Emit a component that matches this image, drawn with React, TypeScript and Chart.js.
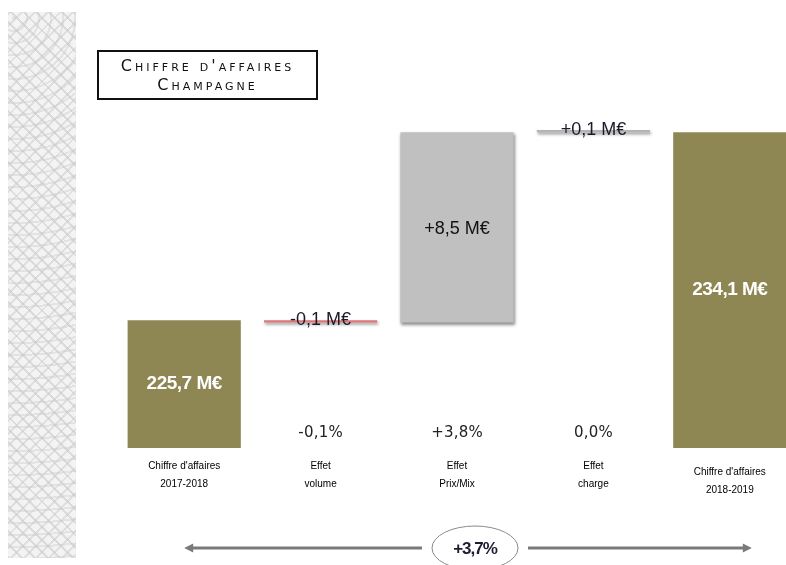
import React, { useEffect, useRef } from "react";
import { Chart, registerables } from "chart.js";

Chart.register(...registerables);

// ---- data ----
const categories: string[][] = [
  ["Chiffre d'affaires", "2017-2018"],
  ["Effet", "volume"],
  ["Effet", "Prix/Mix"],
  ["Effet", "charge"],
  ["Chiffre d'affaires", "2018-2019"],
];
const startTotal = 225.7; // M€ 2017-2018
const effects = [-0.1, 8.5, 0.1]; // volume, prix/mix, charge (M€)
const endTotal = 234.1; // M€ 2018-2019
const axisMin = 220;
const axisMax = 238;
const valueLabels = ["225,7 M€", "-0,1 M€", "+8,5 M€", "+0,1 M€", "234,1 M€"];
const pctLabels = ["", "-0,1%", "+3,8%", "0,0%", ""];
const totalGrowth = "+3,7%";
const totalColor = "#8f8753";
const effectColors = ["#e07676", "#c0c0c0", "#b4b4b4"];
const labelColors = ["#ffffff", "#1a1a2a", "#111111", "#1a1a2a", "#ffffff"];

function totalRanges(): ([number, number] | null)[] {
  return [[axisMin, startTotal], null, null, null, [axisMin, endTotal]];
}
function effectRanges(): ([number, number] | null)[] {
  const r: ([number, number] | null)[] = [null];
  let cur = startTotal;
  effects.forEach((e) => {
    r.push([cur, cur + e]);
    cur = cur + e;
  });
  r.push(null);
  return r;
}

const shadowPlugin = {
  id: "effShadow",
  beforeDatasetDraw(chart: any, args: any) {
    if (args.index === 1) {
      const ctx = chart.ctx;
      ctx.save();
      ctx.shadowColor = "rgba(0,0,0,0.45)";
      ctx.shadowBlur = 3;
      ctx.shadowOffsetX = 1;
      ctx.shadowOffsetY = 2;
    }
  },
  afterDatasetDraw(chart: any, args: any) {
    if (args.index === 1) chart.ctx.restore();
  },
};

const labelsPlugin = {
  id: "wfLabels",
  afterDatasetsDraw(chart: any) {
    const ctx = chart.ctx;
    const m0 = chart.getDatasetMeta(0);
    const m1 = chart.getDatasetMeta(1);
    const tot = totalRanges();
    const area = chart.chartArea;
    const xs = chart.scales.x;
    ctx.save();
    ctx.textAlign = "center";
    ctx.textBaseline = "middle";
    categories.forEach((_, i) => {
      const bar: any = tot[i] ? m0.data[i] : m1.data[i];
      const x = bar.x;
      const big = i === 0 || i === 4 || i === 2;
      const y = big ? (bar.y + bar.base) / 2 : bar.y;
      if (i === 0 || i === 4) {
        ctx.font = "bold 19px 'Liberation Sans', Arial, sans-serif";
        (ctx as any).letterSpacing = "-0.5px";
      } else {
        ctx.font = "18px 'Liberation Sans', Arial, sans-serif";
        (ctx as any).letterSpacing = "0px";
      }
      ctx.fillStyle = labelColors[i];
      ctx.fillText(valueLabels[i], x, y + (i === 2 ? 2 : 0));
      (ctx as any).letterSpacing = "0px";
      if (pctLabels[i]) {
        ctx.font = "15px 'DejaVu Sans', sans-serif";
        (ctx as any).letterSpacing = "0.2px";
        ctx.fillStyle = "#222";
        ctx.fillText(pctLabels[i], x, area.bottom - 15);
        (ctx as any).letterSpacing = "0px";
      }
    });
    // category labels
    ctx.font = "10px 'Liberation Sans', Arial, sans-serif";
    ctx.fillStyle = "#000";
    categories.forEach((c, i) => {
      const x = xs.getPixelForValue(i);
      const off = i === 4 ? 6 : 0;
      c.forEach((line, j) => ctx.fillText(line, x, area.bottom + 18 + off + j * 18));
    });
    // bottom arrow with growth ellipse
    const xl = xs.getPixelForValue(0);
    const xr = xs.getPixelForValue(4) + 22;
    const cx = (xl + xr) / 2 + 7;
    const cy = 548;
    ctx.strokeStyle = "#7a7a7a";
    ctx.fillStyle = "#7a7a7a";
    ctx.lineWidth = 3;
    ctx.beginPath();
    ctx.moveTo(xl + 6, cy);
    ctx.lineTo(cx - 53, cy);
    ctx.moveTo(cx + 53, cy);
    ctx.lineTo(xr - 6, cy);
    ctx.stroke();
    ctx.beginPath();
    ctx.moveTo(xl, cy);
    ctx.lineTo(xl + 9, cy - 4.5);
    ctx.lineTo(xl + 9, cy + 4.5);
    ctx.closePath();
    ctx.fill();
    ctx.beginPath();
    ctx.moveTo(xr, cy);
    ctx.lineTo(xr - 9, cy - 4.5);
    ctx.lineTo(xr - 9, cy + 4.5);
    ctx.closePath();
    ctx.fill();
    ctx.lineWidth = 1;
    ctx.strokeStyle = "#8a8a8a";
    ctx.beginPath();
    ctx.ellipse(cx, cy, 43, 22, 0, 0, Math.PI * 2);
    ctx.stroke();
    ctx.fillStyle = "#1c1c30";
    ctx.font = "bold 17px 'Liberation Sans', sans-serif";
    (ctx as any).letterSpacing = "-1px";
    ctx.fillText(totalGrowth, cx, cy + 1);
    ctx.restore();
  },
};

export default function App() {
  const ref = useRef<HTMLCanvasElement | null>(null);
  useEffect(() => {
    document.body.style.margin = "0";
    document.body.style.overflow = "hidden";
    if (!ref.current) return;
    const chart = new Chart(ref.current, {
      type: "bar",
      data: {
        labels: categories.map((c) => c.join(" ")),
        datasets: [
          {
            data: totalRanges() as any,
            backgroundColor: totalColor,
            borderWidth: 0,
            barPercentage: 0.83,
            categoryPercentage: 1,
          },
          {
            data: effectRanges() as any,
            backgroundColor: [null, ...effectColors, null] as any,
            borderWidth: 0,
            barPercentage: 0.83,
            categoryPercentage: 1,
          },
        ],
      },
      options: {
        animation: false,
        responsive: false,
        maintainAspectRatio: false,
        datasets: { bar: { grouped: false, skipNull: true } },
        layout: { padding: { left: 116, right: 2, top: 44.8, bottom: 117 } },
        plugins: { legend: { display: false }, tooltip: { enabled: false }, title: { display: false } },
        scales: {
          x: { display: false },
          y: { display: false, min: axisMin, max: axisMax },
        },
      } as any,
      plugins: [shadowPlugin, labelsPlugin],
    });
    return () => chart.destroy();
  }, []);

  const pattern =
    "repeating-linear-gradient(45deg, rgba(200,200,200,0.55) 0 2px, transparent 2px 9px), repeating-linear-gradient(-45deg, rgba(200,200,200,0.45) 0 2px, transparent 2px 9px), repeating-radial-gradient(circle at 6px 6px, rgba(210,210,210,0.5) 0 2px, transparent 2px 12px)";

  return (
    <div style={{ position: "relative", width: 786, height: 565, overflow: "hidden", background: "#fff" }}>
      <canvas ref={ref} width={800} height={565} style={{ position: "absolute", left: 0, top: 0, width: 800, height: 565 }} />
      <div
        style={{
          position: "absolute",
          left: 8,
          top: 12,
          width: 68,
          height: 546,
          backgroundColor: "#f3f3f3",
          backgroundImage: pattern,
        }}
      />
      <div
        style={{
          position: "absolute",
          left: 97,
          top: 50,
          width: 221,
          height: 50,
          border: "2px solid #111",
          fontFamily: "'DejaVu Sans', sans-serif",
          fontVariant: "small-caps",
          fontSize: 16,
          letterSpacing: 3,
          lineHeight: "19px",
          textAlign: "center",
          color: "#111",
          paddingTop: 4,
          boxSizing: "border-box",
          whiteSpace: "nowrap",
        }}
      >
        <div>Chiffre d'affaires</div>
        <div>Champagne</div>
      </div>
    </div>
  );
}
